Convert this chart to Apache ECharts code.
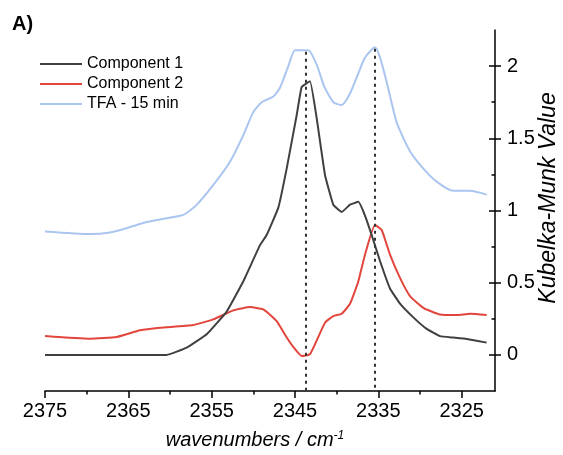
<!DOCTYPE html>
<html>
<head>
<meta charset="utf-8">
<script src="https://cdn.jsdelivr.net/npm/echarts@6/dist/echarts.min.js"></script>
<style>
html,body{margin:0;padding:0;background:#fff;}
#chart{width:563px;height:455px;}
</style>
</head>
<body>
<div id="chart"></div>
<script>
// ---- data ----
const seriesNames = ['Component 1', 'Component 2', 'TFA - 15 min'];

const comp1X = [2375, 2370, 2365, 2360.4, 2358.0, 2355.6, 2353.2, 2351.2, 2349.2, 2348.4, 2347.0, 2346.0, 2344.8, 2344.2, 2343.2, 2342.4, 2341.4, 2340.4, 2339.4, 2338.4, 2337.4, 2336.6, 2335.8, 2334.8, 2333.6, 2332.4, 2330.8, 2329.2, 2327.6, 2326.0, 2324.4, 2322.0];
const comp1Y = [0, 0, 0, 0, 0.05, 0.143, 0.30, 0.51, 0.76, 0.83, 1.02, 1.29, 1.66, 1.855, 1.895, 1.64, 1.246, 1.04, 0.99, 1.04, 1.06, 0.965, 0.83, 0.65, 0.46, 0.355, 0.26, 0.18, 0.13, 0.12, 0.11, 0.085];

const comp2X = [2375, 2369.6, 2366.4, 2363.6, 2361.2, 2357.2, 2354.8, 2352.4, 2350.4, 2348.8, 2347.2, 2346.2, 2345.2, 2344.2, 2343.2, 2341.4, 2340.4, 2339.4, 2338.4, 2337.4, 2336.6, 2335.4, 2334.6, 2333.6, 2332.4, 2331.2, 2329.6, 2327.6, 2325.6, 2324.0, 2322.0];
const comp2Y = [0.131, 0.112, 0.124, 0.17, 0.188, 0.207, 0.246, 0.308, 0.331, 0.315, 0.234, 0.14, 0.055, -0.007, 0.005, 0.223, 0.269, 0.285, 0.354, 0.51, 0.694, 0.899, 0.865, 0.694, 0.533, 0.407, 0.326, 0.28, 0.276, 0.285, 0.276];

const tfaX = [2375, 2369.6, 2367.2, 2365.2, 2362.8, 2360.4, 2358.4, 2356.8, 2354.8, 2352.8, 2351.2, 2350.0, 2349.0, 2347.6, 2346.8, 2345.8, 2345.0, 2343.4, 2342.4, 2341.5, 2340.4, 2339.4, 2338.4, 2337.4, 2336.6, 2335.4, 2334.8, 2334.0, 2332.8, 2331.2, 2329.6, 2328.0, 2326.0, 2324.0, 2322.0];
const tfaY = [0.855, 0.837, 0.848, 0.878, 0.92, 0.947, 0.97, 1.039, 1.177, 1.338, 1.522, 1.683, 1.75, 1.79, 1.85, 2.0, 2.11, 2.11, 2.01, 1.86, 1.75, 1.73, 1.81, 1.95, 2.06, 2.13, 2.06, 1.89, 1.61, 1.41, 1.29, 1.2, 1.136, 1.136, 1.11];

const dashX = [2343.7, 2335.4];
const dashTop = [2.1, 2.12];

const xMajorTicks = [2375, 2365, 2355, 2345, 2335, 2325];
const xMinorTicks = [2370, 2360, 2350, 2340, 2330];
const yMajorTicks = [0, 0.5, 1, 1.5, 2];
const yMinorTicks = [0.25, 0.75, 1.25, 1.75];

const xMin = 2321, xMax = 2375, yMin = -0.25, yMax = 2.25;

// ---- chart ----
const FONT = '"Liberation Sans", Arial, sans-serif';
const zip = (xs, ys) => xs.map((x, i) => [x, ys[i]]);

const chart = echarts.init(document.getElementById('chart'), null, {renderer: 'canvas'});

const baseX = {type: 'value', min: xMin, max: xMax, inverse: true, position: 'bottom', splitLine: {show: false}};
const baseY = {type: 'value', min: yMin, max: yMax, position: 'right', splitLine: {show: false}};

chart.setOption({
  animation: false,
  backgroundColor: '#fff',
  grid: {left: 45, right: 68, top: 30, bottom: 64, containLabel: false},
  legend: {
    data: seriesNames.map(n => ({name: n, icon: 'rect'})),
    orient: 'vertical',
    left: 35,
    top: 50,
    itemWidth: 42,
    itemHeight: 2,
    itemGap: 2,
    textStyle: {fontSize: 16, lineHeight: 18, color: '#000', fontFamily: FONT}
  },
  xAxis: [
    Object.assign({}, baseX, {
      axisLine: {onZero: false, lineStyle: {color: '#000', width: 1.5}},
      axisTick: {customValues: xMajorTicks, length: 7, lineStyle: {color: '#000', width: 1.5}},
      axisLabel: {customValues: xMajorTicks, fontSize: 20, margin: 10, color: '#000', fontFamily: FONT, formatter: v => String(v)}
    }),
    Object.assign({}, baseX, {
      axisLine: {show: false, onZero: false},
      axisTick: {customValues: xMinorTicks, length: 3.5, lineStyle: {color: '#000', width: 1.5}},
      axisLabel: {show: false}
    })
  ],
  yAxis: [
    Object.assign({}, baseY, {
      axisLine: {onZero: false, lineStyle: {color: '#000', width: 1.5}},
      axisTick: {customValues: yMajorTicks, inside: false, length: 6, lineStyle: {color: '#000', width: 1.5}},
      axisLabel: {customValues: yMajorTicks, fontSize: 20, margin: 12, color: '#000', fontFamily: FONT, formatter: v => String(v)}
    }),
    Object.assign({}, baseY, {
      axisLine: {show: false, onZero: false},
      axisTick: {customValues: yMajorTicks, inside: true, length: 6, lineStyle: {color: '#000', width: 1.5}},
      axisLabel: {show: false}
    }),
    Object.assign({}, baseY, {
      axisLine: {show: false, onZero: false},
      axisTick: {customValues: yMinorTicks, inside: true, length: 3.5, lineStyle: {color: '#000', width: 1.5}},
      axisLabel: {show: false}
    })
  ],
  graphic: [
    {type: 'text', left: 12, top: 14, style: {text: 'A)', font: 'bold 20px ' + FONT, fill: '#000'}},
    {type: 'text', x: 255, y: 440, style: {
      text: 'wavenumbers / cm{s|-1}', fill: '#000', align: 'center', verticalAlign: 'middle',
      font: 'italic 20px ' + FONT,
      rich: {s: {fontSize: 12, fontStyle: 'italic', fontFamily: FONT, verticalAlign: 'top', padding: [0, 0, 8, 0]}}
    }},
    {type: 'text', x: 549, y: 198, rotation: Math.PI / 2, style: {
      text: 'Kubelka-Munk Value', fill: '#000', align: 'center', verticalAlign: 'middle',
      font: 'italic 23px ' + FONT
    }}
  ],
  series: [
    {
      name: seriesNames[2], type: 'line', data: zip(tfaX, tfaY), symbol: 'none', z: 2, smooth: 0.2,
      lineStyle: {color: '#aac5f0', width: 2}, itemStyle: {color: '#aac5f0'},
      markLine: {
        symbol: 'none', silent: true, label: {show: false},
        lineStyle: {color: '#333', type: [3, 4], width: 2},
        data: dashX.map((x, i) => [{coord: [x, dashTop[i]]}, {coord: [x, yMin]}])
      }
    },
    {
      name: seriesNames[1], type: 'line', data: zip(comp2X, comp2Y), symbol: 'none', z: 3, smooth: 0.15,
      lineStyle: {color: '#e2453c', width: 2}, itemStyle: {color: '#e2453c'}
    },
    {
      name: seriesNames[0], type: 'line', data: zip(comp1X, comp1Y), symbol: 'none', z: 4, smooth: 0.1,
      lineStyle: {color: '#404040', width: 2}, itemStyle: {color: '#404040'}
    }
  ]
});
</script>
</body>
</html>
